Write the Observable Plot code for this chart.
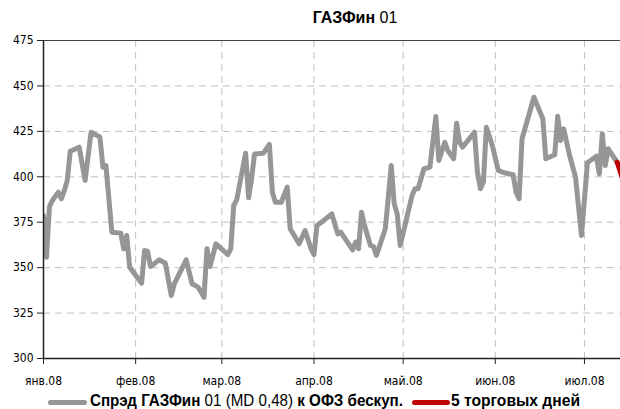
<!DOCTYPE html>
<html>
<head>
<meta charset="utf-8">
<script src="https://cdn.jsdelivr.net/npm/d3@7"></script>
<script src="https://cdn.jsdelivr.net/npm/@observablehq/plot@0.6"></script>
<style>
  html, body { margin: 0; padding: 0; background: #fff; overflow: hidden; }
  #wrap { position: relative; width: 620px; height: 409px; overflow: hidden;
          font-family: "Liberation Sans Narrow", "Arial Narrow", "Liberation Sans", sans-serif; }
  #title { position: absolute; left: 0; width: 710px; top: 9px; text-align: center; font-size: 16px; color: #000; }
  .lg { position: absolute; white-space: nowrap; color: #000; font-size: 16px; line-height: 16px; top: 393px; transform-origin: 0 50%; }
  .sw { position: absolute; height: 5px; border-radius: 3px; top: 400px; }
  b { font-weight: bold; }
</style>
</head>
<body>
<div id="wrap">
  <div id="chart"></div>
  <div id="title"><span id="titleText"><b>ГАЗФин</b> 01</span></div>
  <div class="sw" style="left:48px;width:39px;background:#969696"></div>
  <div class="lg" id="lg1" data-w="313" style="left:90px"><b>Спрэд ГАЗФин</b> 01 (MD 0,48) <b>к ОФЗ бескуп.</b></div>
  <div class="sw" style="left:412px;width:38px;background:#c00000"></div>
  <div class="lg" id="lg2" data-w="129" style="left:451px"><b>5 торговых дней</b></div>
</div>
<script>
// Spread series (grey)
const spreadDates = [
  "2008-01-01","2008-01-02","2008-01-03","2008-01-04","2008-01-06","2008-01-07","2008-01-08","2008-01-09","2008-01-10","2008-01-13",
  "2008-01-15","2008-01-17","2008-01-20","2008-01-21","2008-01-22","2008-01-24","2008-01-27","2008-01-28","2008-01-29","2008-01-30",
  "2008-02-03","2008-02-04","2008-02-05","2008-02-06","2008-02-09","2008-02-11","2008-02-13","2008-02-14","2008-02-18","2008-02-20",
  "2008-02-22","2008-02-24","2008-02-25","2008-02-26","2008-02-28","2008-03-03","2008-03-04","2008-03-05","2008-03-06","2008-03-09",
  "2008-03-10","2008-03-11","2008-03-12","2008-03-15","2008-03-17","2008-03-18","2008-03-19","2008-03-21","2008-03-23","2008-03-24",
  "2008-03-25","2008-03-27","2008-03-29","2008-03-31","2008-04-01","2008-04-02","2008-04-04","2008-04-07","2008-04-09","2008-04-10",
  "2008-04-14","2008-04-15","2008-04-16","2008-04-17","2008-04-18","2008-04-20","2008-04-21","2008-04-22","2008-04-25","2008-04-27",
  "2008-04-28","2008-04-29","2008-04-30","2008-05-02","2008-05-04","2008-05-05","2008-05-06","2008-05-08","2008-05-10","2008-05-12",
  "2008-05-13","2008-05-15","2008-05-16","2008-05-18","2008-05-19","2008-05-20","2008-05-21","2008-05-25","2008-05-26","2008-05-27",
  "2008-05-28","2008-05-29","2008-05-31","2008-06-02","2008-06-04","2008-06-07","2008-06-08","2008-06-09","2008-06-10","2008-06-14",
  "2008-06-17","2008-06-18","2008-06-21","2008-06-22","2008-06-23","2008-06-24","2008-06-26","2008-06-28","2008-06-30","2008-07-02",
  "2008-07-05","2008-07-06","2008-07-07","2008-07-08","2008-07-09","2008-07-12"
];
const spreadValues = [
  378.7,355.7,383.6,387.0,391.5,387.9,392.4,398.0,414.1,416.3,
  398.0,424.5,421.8,405.3,406.2,369.5,369.0,360.3,367.7,350.2,
  341.4,359.4,359.0,350.6,354.3,352.4,334.7,341.1,354.3,341.1,
  339.3,333.7,360.4,350.6,363.1,357.2,360.4,384.2,387.3,413.0,
  388.4,398.9,412.6,413.0,417.8,391.5,386.0,386.0,394.3,371.4,
  368.6,363.1,370.4,360.4,357.2,373.2,375.6,379.6,368.6,369.5,
  359.8,364.0,360.4,380.5,373.2,362.2,361.6,356.7,371.4,406.2,
  385.1,379.6,362.2,375.9,389.7,393.4,393.4,404.4,405.3,433.2,
  409.0,419.0,414.5,409.9,429.5,419.0,416.3,424.5,402.5,393.4,
  397.0,427.3,417.2,403.5,402.2,401.1,391.5,387.9,420.9,443.8,
  431.9,409.9,412.1,433.3,420.0,426.4,411.7,399.8,367.7,407.7,
  411.3,401.6,423.7,406.2,415.4,408.0
];
// Last 5 trading days (red)
const lastDates = ["2008-07-12","2008-07-13","2008-07-14","2008-07-15","2008-07-16"];
const lastValues = [408.0, 403.0, 398.0, 401.0, 404.0];

// Axis ticks
const monthTicks = ["2008-01-01","2008-02-01","2008-03-01","2008-04-01","2008-05-01","2008-06-01","2008-07-01"];
const monthLabels = ["янв.08","фев.08","мар.08","апр.08","май.08","июн.08","июл.08"];
const yTicks = [300, 325, 350, 375, 400, 425, 450, 475];

const parse = d3.utcParse("%Y-%m-%d");
const spread = spreadDates.map((d, i) => ({date: parse(d), value: spreadValues[i]}));
const last = lastDates.map((d, i) => ({date: parse(d), value: lastValues[i]}));
const tickDates = monthTicks.map(parse);
const labelOf = new Map(tickDates.map((d, i) => [+d, monthLabels[i]]));

const xDomain = [parse("2008-01-01"), new Date(Date.UTC(2008, 6, 13, 3))];

const chart = Plot.plot({
  width: 620,
  height: 409,
  marginLeft: 43,
  marginRight: 0,
  marginTop: 40,
  marginBottom: 51,
  style: {fontFamily: "'Liberation Sans Narrow', 'Arial Narrow', 'DejaVu Sans Condensed', sans-serif", fontSize: "12px", color: "#000", background: "#fff"},
  x: {type: "utc", domain: xDomain},
  y: {domain: [300, 475]},
  marks: [
    Plot.gridY(yTicks.filter(v => v !== 300), {stroke: "#c0c0c0", strokeOpacity: 1, strokeDasharray: "7,5", strokeWidth: 1}),
    Plot.gridX(tickDates.slice(1), {stroke: "#c0c0c0", strokeOpacity: 1, strokeDasharray: "7,5", strokeWidth: 1}),
    Plot.ruleY([475], {stroke: "#444", strokeWidth: 1}),
    Plot.line(spread, {x: "date", y: "value", stroke: "#969696", strokeWidth: 5, strokeLinejoin: "round", strokeLinecap: "round", clip: true}),
    Plot.line(last, {x: "date", y: "value", stroke: "#c00000", strokeWidth: 5, strokeLinejoin: "round", strokeLinecap: "round", clip: true}),
    Plot.axisY(yTicks, {tickSize: 6, tickPadding: 4, stroke: "#222", fontSize: 12, label: null}),
    Plot.axisX(tickDates, {tickSize: 6, tickPadding: 12, stroke: "#222", fontSize: 12, label: null, tickFormat: d => labelOf.get(+d)}),
    Plot.ruleX([xDomain[0]], {stroke: "#222", strokeWidth: 1.5}),
    Plot.ruleY([300], {stroke: "#222", strokeWidth: 1.5})
  ]
});
document.getElementById("chart").appendChild(chart);

// fit legend texts to their reference widths
for (const el of document.querySelectorAll(".lg")) {
  const target = +el.dataset.w;
  const w = el.getBoundingClientRect().width;
  if (w > 0) el.style.transform = `scaleX(${target / w})`;
}
</script>
</body>
</html>
